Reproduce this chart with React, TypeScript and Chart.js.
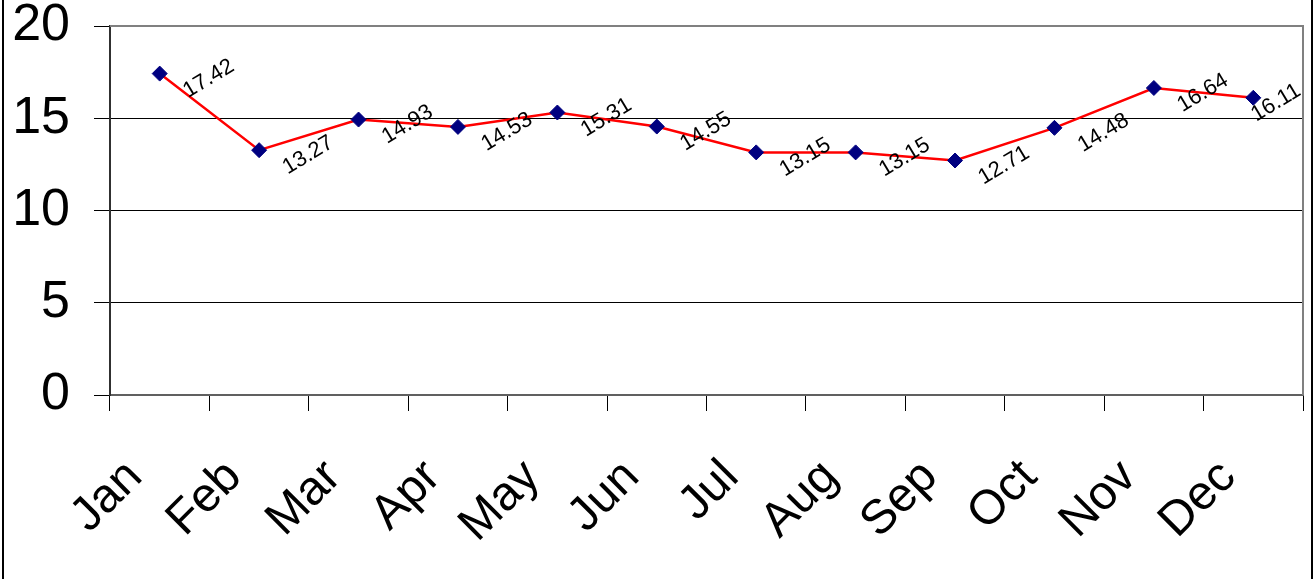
import { useEffect, useRef } from 'react';
import { Chart, registerables } from 'chart.js';

Chart.register(...registerables);

const months = ['Jan', 'Feb', 'Mar', 'Apr', 'May', 'Jun', 'Jul', 'Aug', 'Sep', 'Oct', 'Nov', 'Dec'];
const values = [17.42, 13.27, 14.93, 14.53, 15.31, 14.55, 13.15, 13.15, 12.71, 14.48, 16.64, 16.11];
const yTickValues = [0, 5, 10, 15, 20];

const FONT = '"Liberation Sans", Arial, sans-serif';

const decorPlugin = {
  id: 'decor',
  afterDraw(chart: any) {
    const { ctx, chartArea, width, height } = chart;
    const meta = chart.getDatasetMeta(0);
    ctx.save();
    // data labels
    ctx.font = `22px ${FONT}`;
    ctx.fillStyle = '#000';
    ctx.textAlign = 'center';
    ctx.textBaseline = 'middle';
    const deg = 31;
    const a = (deg * Math.PI) / 180;
    meta.data.forEach((pt: any, i: number) => {
      const text = values[i].toFixed(2);
      const w = ctx.measureText(text).width;
      const h = 16;
      const halfX = (w * Math.cos(a) + h * Math.sin(a)) / 2;
      let cx = pt.x + 49;
      const cy = pt.y + 5;
      if (cx + halfX > chartArea.right) cx = chartArea.right - halfX;
      ctx.save();
      ctx.translate(cx, cy);
      ctx.rotate(-a);
      ctx.fillText(text, 0, 0);
      ctx.restore();
    });
    // plot area border (top & right)
    ctx.strokeStyle = '#808080';
    ctx.lineWidth = 2;
    ctx.beginPath();
    ctx.moveTo(chartArea.left, chartArea.top);
    ctx.lineTo(chartArea.right, chartArea.top);
    ctx.lineTo(chartArea.right, chartArea.bottom);
    ctx.stroke();
    // outer frame
    ctx.strokeStyle = '#000';
    ctx.lineWidth = 2;
    ctx.beginPath();
    ctx.moveTo(3, 0);
    ctx.lineTo(3, height);
    ctx.moveTo(width - 3, 0);
    ctx.lineTo(width - 3, height);
    ctx.stroke();
    ctx.restore();
  },
};

export default function App() {
  const ref = useRef<HTMLCanvasElement | null>(null);

  useEffect(() => {
    document.body.style.margin = '0';
    const canvas = ref.current;
    if (!canvas) return;
    const chart = new Chart(canvas, {
      type: 'line',
      data: {
        labels: months,
        datasets: [
          {
            data: values,
            borderColor: '#FF0000',
            borderWidth: 2.5,
            tension: 0,
            pointStyle: 'rectRot',
            pointRadius: 7.5,
            pointBackgroundColor: '#000080',
            pointBorderColor: '#000080',
            pointBorderWidth: 1,
          },
        ],
      },
      options: {
        responsive: false,
        animation: false,
        layout: { padding: { top: 0, right: 12, left: 0, bottom: 0 } },
        plugins: { legend: { display: false }, tooltip: { enabled: false } },
        scales: {
          x: {
            offset: true,
            grid: {
              offset: true,
              drawOnChartArea: false,
              drawTicks: true,
              tickLength: 16,
              tickColor: '#000',
            },
            border: { display: true, color: '#606060', width: 2 },
            ticks: {
              color: '#000',
              font: { family: FONT, size: 48 },
              maxRotation: 45,
              minRotation: 45,
              padding: 38,
              labelOffset: -25,
              autoSkip: false,
            },
            afterFit: (s: any) => {
              s.height = 184;
              s.paddingLeft = 0;
              s.paddingRight = 0;
            },
          },
          y: {
            min: 0,
            max: 20,
            afterBuildTicks: (s: any) => {
              s.ticks = yTickValues.map((v) => ({ value: v }));
            },
            grid: {
              color: (c: any) => (c.tick && c.tick.value === 20 ? 'rgba(0,0,0,0)' : '#000'),
              lineWidth: 1,
              tickLength: 16,
              tickColor: '#000',
            },
            border: { display: true, color: '#303030', width: 2 },
            ticks: {
              color: '#000',
              font: { family: FONT, size: 52 },
              padding: 24,
            },
            afterFit: (s: any) => {
              s.width = 110;
              s.paddingTop = 26;
              s.paddingBottom = 0;
            },
          },
        },
      },
      plugins: [decorPlugin],
    });
    return () => chart.destroy();
  }, []);

  return (
    <div style={{ width: 1315, height: 579 }}>
      <canvas ref={ref} width={1315} height={579} style={{ display: 'block' }} />
    </div>
  );
}
